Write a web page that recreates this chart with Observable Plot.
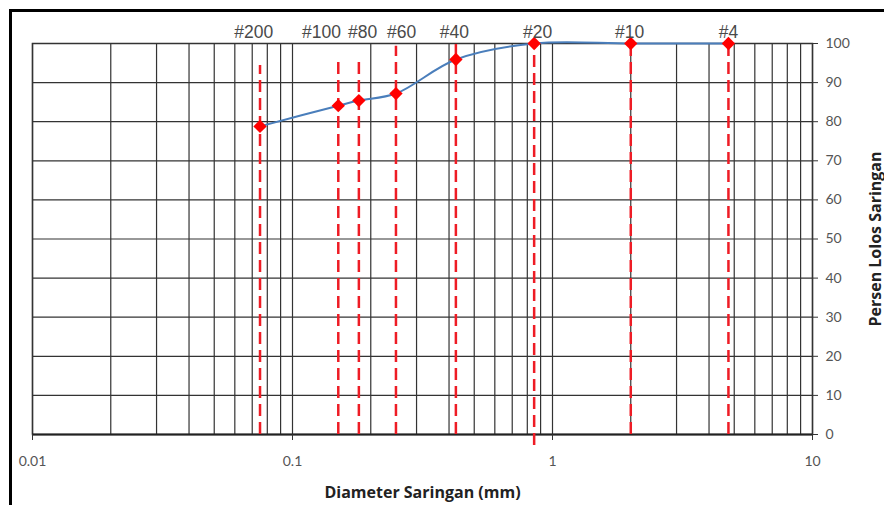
<!DOCTYPE html>
<html>
<head>
<meta charset="utf-8">
<script src="https://cdn.jsdelivr.net/npm/d3@7"></script>
<script src="https://cdn.jsdelivr.net/npm/@observablehq/plot@0.6"></script>
<style>
  html, body { margin: 0; padding: 0; background: #fff; overflow: hidden; }
  #wrap { position: relative; width: 884px; height: 505px; }
  #border { position: absolute; left: 9px; top: 9px; width: 900px; height: 520px;
            border: 3.5px solid #000; pointer-events: none; box-sizing: border-box; }
</style>
</head>
<body>
<div id="wrap"><div id="chart"></div><div id="border"></div></div>
<script>
// Sieve data
const sieveNames = ["#200", "#100", "#80", "#60", "#40", "#20", "#10", "#4"];
const sieveSizes = [0.075, 0.15, 0.18, 0.25, 0.425, 0.85, 2.0, 4.75];
const percentPassing = [78.8, 84.1, 85.4, 87.2, 95.9, 100, 100, 100];
// Dashed guide extents (percent)
const guideTop = [94.4, 95.4, 96.4, 99.3, 100, 100, 100, 100];
const guideBottom = [0, 0, 0, 0, 0, -2.8, 0, 0];
// Label anchor positions along x (mm)
const labelX = [0.071, 0.1293, 0.186, 0.263, 0.419, 0.876, 1.98, 4.75];
// Axes
const xTicks = [0.01, 0.1, 1, 10];
const xTickLabels = ["0.01", "0.1", "1", "10"];
const yTicks = [0, 10, 20, 30, 40, 50, 60, 70, 80, 90, 100];

const rows = sieveNames.map((n, i) => ({
  name: n, size: sieveSizes[i], pct: percentPassing[i],
  top: guideTop[i], bottom: guideBottom[i], lx: labelX[i]
}));
const gridX = d3.scaleLog().domain([0.01, 10]).ticks();
const grid = "#333";

const chart = Plot.plot({
  width: 884,
  height: 505,
  marginLeft: 32,
  marginRight: 72,
  marginTop: 43,
  marginBottom: 71,
  style: { fontFamily: "Lato, sans-serif", background: "transparent", overflow: "visible" },
  x: { type: "log", domain: [0.01, 10] },
  y: { domain: [0, 100] },
  marks: [
    Plot.ruleX(gridX, { x: d => d, stroke: grid, strokeWidth: 1.2 }),
    Plot.ruleY(yTicks, { y: d => d, stroke: grid, strokeWidth: 1.2 }),
    Plot.frame({ stroke: grid, strokeWidth: 1.5 }),
    Plot.ruleY([0], { stroke: "#222", strokeWidth: 2 }),
    Plot.axisX({ ticks: xTicks, tickSize: 6, tickFormat: () => "", stroke: grid, label: null }),
    Plot.text(xTicks, { x: d => d, text: d => xTickLabels[xTicks.indexOf(d)], frameAnchor: "bottom",
                        dy: 31, fontSize: 14, fill: "#555" }),
    Plot.axisY({ anchor: "right", ticks: yTicks, tickSize: 5, tickPadding: 8,
                 fontSize: 14, color: "#555", stroke: grid, label: null }),
    Plot.ruleX(rows, { x: "size", y1: "bottom", y2: "top", stroke: "#ee1c25",
                       strokeWidth: 2.5, strokeDasharray: "12,6" }),
    Plot.line(rows, { x: "size", y: "pct", curve: "catmull-rom", stroke: "#4a7ebb", strokeWidth: 2 }),
    Plot.dot(rows, { x: "size", y: "pct", symbol: "diamond2", r: 6, fill: "#ff0000", stroke: "none" }),
    Plot.text(rows, { x: "lx", text: "name", frameAnchor: "top", lineAnchor: "bottom", dy: -6,
                      fontFamily: "Liberation Sans, Arial, sans-serif", fontSize: 17.5, fill: "#4a4a4a" }),
    Plot.text(["Diameter Saringan (mm)"], { frameAnchor: "bottom", lineAnchor: "middle", dy: 58, fontSize: 16,
                      fontWeight: "bold", fill: "#222", fontFamily: "Open Sans, sans-serif" }),
    Plot.text(["Persen Lolos Saringan"], { frameAnchor: "right", textAnchor: "middle", dx: 63, rotate: -90,
                      fontSize: 16, fontWeight: "bold", fill: "#222", fontFamily: "Open Sans, sans-serif" })
  ]
});
document.getElementById("chart").appendChild(chart);
</script>
</body>
</html>
